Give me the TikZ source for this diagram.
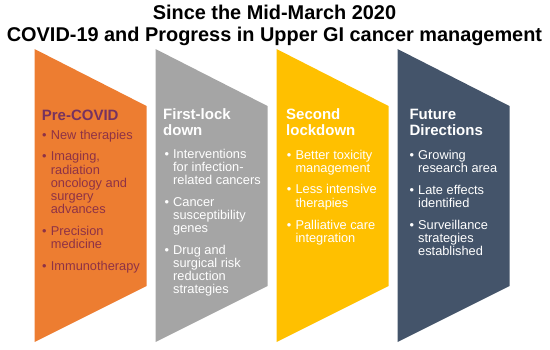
\documentclass[tikz,border=0pt]{standalone}
\usepackage{fontspec}
\setmainfont{Liberation Sans}
\usepackage{xcolor}
\usepackage{tikz}
\usetikzlibrary{positioning}
\definecolor{myorange}{RGB}{237,125,49}
\definecolor{mygray}{RGB}{165,165,165}
\definecolor{myyellow}{RGB}{255,192,0}
\definecolor{mynavy}{RGB}{68,84,106}
\definecolor{myplum}{RGB}{118,50,96}
\definecolor{mybrick}{RGB}{142,50,70}
\newcommand{\blist}[1]{\begin{tabular}[t]{@{}l@{\hspace{4.2pt}}l@{}}#1\end{tabular}}
\newcommand{\hlines}[1]{\begin{tabular}[t]{@{}l@{}}#1\end{tabular}}
\tikzset{
    titletext/.style={anchor=base, inner sep=0pt, font=\fontsize{19.9}{21.5}\selectfont\bfseries},
    headtext/.style={anchor=base west, inner sep=0pt, font=\fontsize{15}{16.7}\selectfont\bfseries},
    bodytext/.style={anchor=base west, inner sep=0pt, font=\fontsize{12.8}{13}\selectfont},
}

\begin{document}
\begin{tikzpicture}[x=1pt, y=-1pt]
    \useasboundingbox (0,0) rectangle (550,349);

    % Title
    \node[titletext] (title1) at (274.5,19.5) {Since the Mid-March 2020};
    \node[titletext] (title2) at (274.5,41) {COVID-19 and Progress in Upper GI cancer management};

    % Draw Panels
    \foreach \x/\c in {34.5/myorange, 155.5/mygray, 276.5/myyellow, 397.5/mynavy}
        \fill[\c] (\x,49) -- (\x+112,106) -- (\x+112,286) -- (\x,342) -- cycle;

    % Pre-COVID
    \node[headtext, myplum] (prehead) at (41.7,120) {Pre-COVID};
    \node[bodytext, mybrick] (prebody) at (42,139) {\blist{%
        \textbullet & New therapies\\[8.8pt]
        \textbullet & Imaging,\\ & radiation\\ & oncology and\\ & surgery\\ & advances\\[8.8pt]
        \textbullet & Precision\\ & medicine\\[8.8pt]
        \textbullet & Immunotherapy}};

    % First lockdown
    \node[headtext, white] (firsthead) at (163,119) {\hlines{First-lock\\down}};
    \node[bodytext, white] (firstbody) at (164.3,158) {\blist{%
        \textbullet & Interventions\\ & for infection-\\ & related cancers\\[8.8pt]
        \textbullet & Cancer\\ & susceptibility\\ & genes\\[8.8pt]
        \textbullet & Drug and\\ & surgical risk\\ & reduction\\ & strategies}};

    % Second lockdown
    \node[headtext, white] (secondhead) at (286,119) {\hlines{Second\\lockdown}};
    \node[bodytext, white] (secondbody) at (286.7,159) {\blist{%
        \textbullet & Better toxicity\\ & management\\[8.8pt]
        \textbullet & Less intensive\\ & therapies\\[8.8pt]
        \textbullet & Palliative care\\ & integration}};

    % Future directions
    \node[headtext, white] (futurehead) at (409.3,119) {\hlines{Future\\Directions}};
    \node[bodytext, white] (futurebody) at (409.3,159) {\blist{%
        \textbullet & Growing\\ & research area\\[8.8pt]
        \textbullet & Late effects\\ & identified\\[8.8pt]
        \textbullet & Surveillance\\ & strategies\\ & established}};
\end{tikzpicture}
\end{document}
